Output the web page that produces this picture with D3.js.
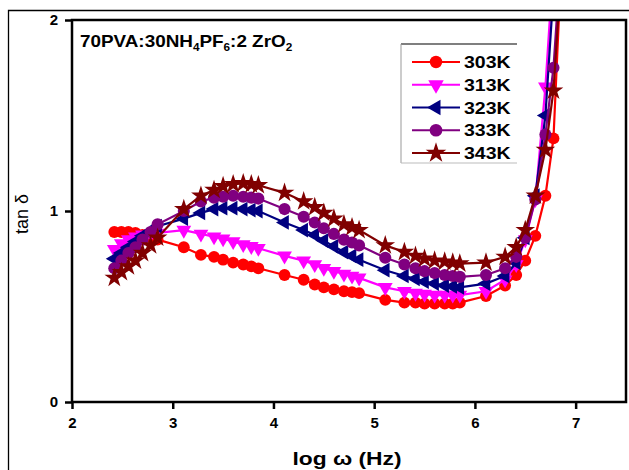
<!DOCTYPE html>
<html>
<head>
<meta charset="utf-8">
<script src="https://cdn.jsdelivr.net/npm/d3@7"></script>
<style>
body { margin: 0; background: #fff; }
text { font-family: Arial, "Liberation Sans", sans-serif; }
</style>
</head>
<body>
<svg id="chart" width="629" height="470"></svg>
<script>
// log omega values shared by all series
var logW = [2.42, 2.49, 2.56, 2.63, 2.70, 2.78, 2.85,
    3.11, 3.28, 3.41, 3.50, 3.60, 3.70, 3.78, 3.85,
    4.11, 4.30, 4.41, 4.50, 4.60, 4.70, 4.78, 4.85,
    5.11, 5.30, 5.41, 5.50, 5.60, 5.70, 5.78, 5.85,
    6.11, 6.30, 6.41, 6.50, 6.60, 6.70, 6.78, 6.85];

var tan303 = [0.89, 0.89, 0.89, 0.885, 0.875, 0.865, 0.85,
    0.81, 0.77, 0.76, 0.745, 0.73, 0.72, 0.71, 0.70,
    0.665, 0.64, 0.615, 0.60, 0.59, 0.58, 0.575, 0.57,
    0.535, 0.52, 0.52, 0.515, 0.515, 0.515, 0.515, 0.52,
    0.555, 0.61, 0.665, 0.74, 0.87, 1.08, 1.38, 2.2];
var tan313 = [0.80, 0.83, 0.85, 0.865, 0.875, 0.88, 0.885,
    0.90, 0.88, 0.865, 0.855, 0.84, 0.825, 0.815, 0.805,
    0.765, 0.74, 0.72, 0.70, 0.685, 0.67, 0.66, 0.65,
    0.60, 0.58, 0.57, 0.565, 0.56, 0.56, 0.56, 0.56,
    0.58, 0.64, 0.72, 0.85, 1.06, 1.65, 2.3, 2.6];
var tan323 = [0.75, 0.78, 0.81, 0.84, 0.87, 0.895, 0.92,
    0.96, 0.99, 1.01, 1.015, 1.015, 1.01, 1.005, 1.0,
    0.94, 0.90, 0.875, 0.845, 0.815, 0.785, 0.765, 0.745,
    0.69, 0.66, 0.645, 0.63, 0.62, 0.61, 0.605, 0.60,
    0.62, 0.66, 0.73, 0.86, 1.08, 1.5, 2.15, 2.6];
var tan333 = [0.70, 0.74, 0.78, 0.81, 0.85, 0.89, 0.93,
    1.0, 1.05, 1.07, 1.075, 1.08, 1.075, 1.07, 1.065,
    1.01, 0.97, 0.94, 0.91, 0.88, 0.85, 0.835, 0.82,
    0.755, 0.72, 0.70, 0.685, 0.675, 0.665, 0.66, 0.655,
    0.665, 0.70, 0.76, 0.86, 1.06, 1.4, 1.75, 2.3];
var tan343 = [0.65, 0.68, 0.71, 0.74, 0.78, 0.82, 0.86,
    1.01, 1.08, 1.11, 1.13, 1.14, 1.145, 1.14, 1.135,
    1.095, 1.05, 1.02, 0.99, 0.96, 0.93, 0.915, 0.90,
    0.82, 0.785, 0.765, 0.75, 0.74, 0.735, 0.73, 0.725,
    0.73, 0.76, 0.81, 0.90, 1.08, 1.32, 1.63, 2.2];

var seriesNames = ["303K", "313K", "323K", "333K", "343K"];
var seriesColors = ["#ff0000", "#ff00ff", "#000080", "#800080", "#800000"];
var xTicks = [2, 3, 4, 5, 6, 7];
var yTicks = [0, 1, 2];

var seriesVals = [tan303, tan313, tan323, tan333, tan343];
var series = seriesNames.map(function(n, i) {
    return { name: n, color: seriesColors[i],
        points: logW.map(function(x, j) { return { x: x, y: seriesVals[i][j] }; }) };
});

var svg = d3.select("#chart");
var margin = { left: 72, top: 20, right: 626, bottom: 402 };

var x = d3.scaleLinear().domain([2, 7.5]).range([margin.left, margin.right]);
var y = d3.scaleLinear().domain([0, 2]).range([margin.bottom, margin.top]);

// outer frame
svg.append("path")
    .attr("d", "M8.5,470 V10.5 H629")
    .attr("fill", "none")
    .attr("stroke", "#000")
    .attr("stroke-width", 1.3);

svg.append("clipPath").attr("id", "clip")
    .append("rect")
    .attr("x", margin.left).attr("y", margin.top)
    .attr("width", margin.right - margin.left)
    .attr("height", margin.bottom - margin.top);

// markers
var sym = [
    { type: d3.symbolCircle, size: 110, rot: 0 },
    { type: d3.symbolTriangle, size: 95, rot: 180 },
    { type: d3.symbolTriangle, size: 95, rot: -90 },
    { type: d3.symbolCircle, size: 115, rot: 0 },
    { type: d3.symbolStar, size: 120, rot: 0 }
];

var line = d3.line().x(d => x(d.x)).y(d => y(d.y));

var plot = svg.append("g").attr("clip-path", "url(#clip)");

series.forEach(function(s, i) {
    var g = plot.append("g");
    g.append("path")
        .attr("d", line(s.points))
        .attr("fill", "none")
        .attr("stroke", s.color)
        .attr("stroke-width", 2.2);
    g.selectAll("path.pt")
        .data(s.points).enter()
        .append("path")
        .attr("class", "pt")
        .attr("d", d3.symbol().type(sym[i].type).size(sym[i].size))
        .attr("transform", d => "translate(" + x(d.x) + "," + y(d.y) + ") rotate(" + sym[i].rot + ")")
        .attr("fill", s.color);
});

// axes
var xAxis = svg.append("g")
    .attr("transform", "translate(0," + margin.bottom + ")")
    .call(d3.axisBottom(x).tickValues(xTicks).tickSize(7).tickFormat(d3.format("d")));
var yAxis = svg.append("g")
    .attr("transform", "translate(" + margin.left + ",0)")
    .call(d3.axisLeft(y).tickValues(yTicks).tickSize(7).tickFormat(d3.format("d")));

[xAxis, yAxis].forEach(function(a) {
    a.attr("font-size", null);
    a.select(".domain").remove();
    a.selectAll(".tick line").attr("stroke", "#000").attr("stroke-width", 2.5);
    a.selectAll(".tick text")
        .attr("fill", "#000")
        .attr("font-size", 15)
        .attr("font-weight", "bold");
});
xAxis.selectAll(".tick text").attr("y", 12).attr("dy", "0.9em");
yAxis.selectAll(".tick text").attr("x", -14);

// plot box
svg.append("rect")
    .attr("x", margin.left).attr("y", margin.top)
    .attr("width", margin.right - margin.left)
    .attr("height", margin.bottom - margin.top)
    .attr("fill", "none")
    .attr("stroke", "#000")
    .attr("stroke-width", 2.5);

// title with subscripts (text in the source is horizontally stretched)
var t = svg.append("g").attr("transform", "translate(80,47) scale(1.18,1)")
    .append("text")
    .style("font-size", "16px")
    .style("font-weight", "bold");
t.append("tspan").text("70PVA:30NH");
t.append("tspan").text("4").attr("dy", 4).style("font-size", "10px");
t.append("tspan").text("PF").attr("dy", -4);
t.append("tspan").text("6").attr("dy", 4).style("font-size", "10px");
t.append("tspan").text(":2 ZrO").attr("dy", -4);
t.append("tspan").text("2").attr("dy", 4).style("font-size", "10px");

// axis labels
svg.append("g").attr("transform", "translate(347,465) scale(1.2,1)")
    .append("text")
    .attr("text-anchor", "middle")
    .style("font-size", "19px")
    .style("font-weight", "bold")
    .text("log \u03c9 (Hz)");
svg.append("text")
    .attr("transform", "translate(28,214) rotate(-90)")
    .attr("text-anchor", "middle")
    .style("font-size", "18px")
    .text("tan \u03b4");

// legend
var lg = svg.append("g");
lg.append("line").attr("x1", 401).attr("x2", 517).attr("y1", 44).attr("y2", 44)
    .attr("stroke", "#000").attr("stroke-width", 1.2);
lg.append("line").attr("x1", 401).attr("x2", 401).attr("y1", 44).attr("y2", 163)
    .attr("stroke", "#999").attr("stroke-width", 1);
lg.append("line").attr("x1", 401).attr("x2", 517).attr("y1", 163).attr("y2", 163)
    .attr("stroke", "#bbb").attr("stroke-width", 1);

var ly = d3.scalePoint().domain(seriesNames).range([62, 153]);
series.forEach(function(s, i) {
    var yy = ly(s.name);
    lg.append("line").attr("x1", 412).attr("x2", 460).attr("y1", yy).attr("y2", yy)
        .attr("stroke", s.color).attr("stroke-width", 2.2);
    lg.append("path")
        .attr("d", d3.symbol().type(sym[i].type).size(sym[i].size * 1.1))
        .attr("transform", "translate(436," + yy + ") rotate(" + sym[i].rot + ")")
        .attr("fill", s.color);
    lg.append("g").attr("transform", "translate(464," + (yy + 6) + ") scale(1.22,1)")
        .append("text")
        .style("font-size", "16px")
        .style("font-weight", "bold")
        .text(s.name);
});
</script>
</body>
</html>
